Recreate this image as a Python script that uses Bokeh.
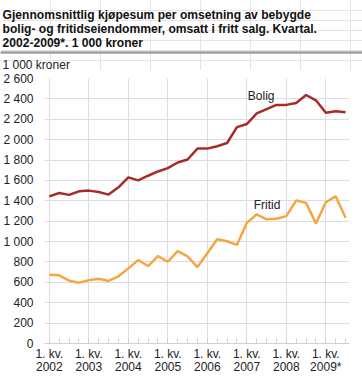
from bokeh.plotting import figure
from bokeh.layouts import column
from bokeh.models import FixedTicker, Label, Range1d, ColumnDataSource, BoxAnnotation
from bokeh.embed import file_html
from bokeh.resources import INLINE

quarters = list(range(31))  # 1. kv. 2002 .. 3. kv. 2009
years = ["2002", "2003", "2004", "2005", "2006", "2007", "2008", "2009*"]
bolig = [1444, 1477, 1458, 1493, 1500, 1487, 1461, 1532, 1630, 1600, 1646, 1688,
         1721, 1776, 1805, 1912, 1912, 1935, 1967, 2123, 2153, 2257, 2299, 2341,
         2341, 2360, 2438, 2386, 2263, 2279, 2270]
fritid = [675, 669, 617, 597, 620, 636, 614, 659, 737, 818, 760, 857,
          802, 906, 855, 750, 886, 1023, 1003, 967, 1185, 1266, 1218, 1224,
          1250, 1403, 1380, 1178, 1386, 1444, 1234]
yticks = list(range(0, 2601, 200))
title_lines = ["Gjennomsnittlig kjøpesum per omsetning av bebygde",
               "bolig- og fritidseiendommer, omsatt i fritt salg. Kvartal.",
               "2002-2009*. 1 000 kroner"]
unit_label = "1 000 kroner"

FONT = "Liberation Sans"
W = 362
RULE = "#9f9f9f"


def blank(h, bg="white"):
    f = figure(width=W, height=h, output_backend="svg", toolbar_location=None,
               x_range=Range1d(0, W), y_range=Range1d(0, h),
               x_axis_location=None, y_axis_location=None,
               min_border=0, min_border_left=0, min_border_right=0,
               min_border_top=0, min_border_bottom=0, title=None)
    f.outline_line_color = None
    f.background_fill_color = bg
    f.border_fill_color = bg
    return f


# ---- title block ----
HH = 70
head = blank(HH)
for i, t in enumerate(title_lines):
    head.add_layout(Label(x=2, y=HH - (14 + i * 14.3), text=t, text_font=FONT,
                          text_font_size="12.1px", text_font_style="bold",
                          text_color="#111111", text_baseline="alphabetic"))
head.quad(left=[0], right=[W], top=[HH - 51], bottom=[HH - 53], fill_color=RULE,
          fill_alpha=1, line_color=None)
head.add_layout(BoxAnnotation(left=0, right=W, top=HH - 51, bottom=HH - 53,
                              fill_color=RULE, fill_alpha=1, line_color=None))
head.add_layout(Label(x=2, y=HH - 64, text=unit_label, text_font=FONT,
                      text_font_size="12px", text_color="#222222",
                      text_baseline="alphabetic"))

# ---- chart ----
p = figure(width=W, height=308, output_backend="svg", toolbar_location=None,
           x_range=Range1d(-0.49, 30.4), y_range=Range1d(0, 2600),
           min_border_left=36, min_border_right=13, min_border_top=8,
           min_border_bottom=35)
p.outline_line_color = None
p.background_fill_color = "white"
p.border_fill_color = "white"

src = ColumnDataSource(dict(q=quarters, bolig=bolig, fritid=fritid))
p.line("q", "bolig", source=src, line_color="#a82b27", line_width=2.5)
p.line("q", "fritid", source=src, line_color="#f6a545", line_width=2.5)

major = [i for i in quarters if i % 4 == 0]
p.xaxis.ticker = FixedTicker(ticks=major, minor_ticks=quarters)
p.xaxis.major_label_overrides = {m: "1. kv.\n" + years[k] for k, m in enumerate(major)}
p.yaxis.ticker = FixedTicker(ticks=yticks)
p.yaxis.major_label_overrides = {v: (f"{v:,}".replace(",", " ")) for v in yticks}

for ax in (p.xaxis, p.yaxis):
    ax.major_label_text_font = FONT
    ax.major_label_text_font_size = "12px"
    ax.major_label_text_color = "#222222"
    ax.major_label_standoff = 5
p.xaxis.major_label_standoff = 3
p.xaxis.major_label_text_line_height = 0.97
p.xaxis.axis_line_color = "#cfcfd6"
p.xaxis.major_tick_in = 5
p.xaxis.major_tick_out = 0
p.xaxis.minor_tick_in = 5
p.xaxis.minor_tick_out = 0
p.xaxis.major_tick_line_color = "#cfcfd6"
p.xaxis.minor_tick_line_color = "#cfcfd6"
p.yaxis.axis_line_color = None
p.yaxis.major_tick_line_color = None
p.yaxis.minor_tick_line_color = None

p.xgrid.grid_line_color = "#dcdce2"
p.ygrid.grid_line_color = "#dcdce2"

p.add_layout(Label(x=20.1, y=2357, text="Bolig", text_font=FONT,
                   text_font_size="12px", text_color="#222222"))
p.add_layout(Label(x=20.7, y=1295, text="Fritid", text_font=FONT,
                   text_font_size="12px", text_color="#222222"))

# ---- bottom rule ----
foot = blank(2, RULE)
foot.quad(left=[0], right=[W], top=[2], bottom=[0], fill_color=RULE,
          fill_alpha=1, line_color=None)

layout = column(column(head, spacing=0), p, column(foot, spacing=0), spacing=0)
open("out.html", "w").write(file_html(layout, INLINE))
